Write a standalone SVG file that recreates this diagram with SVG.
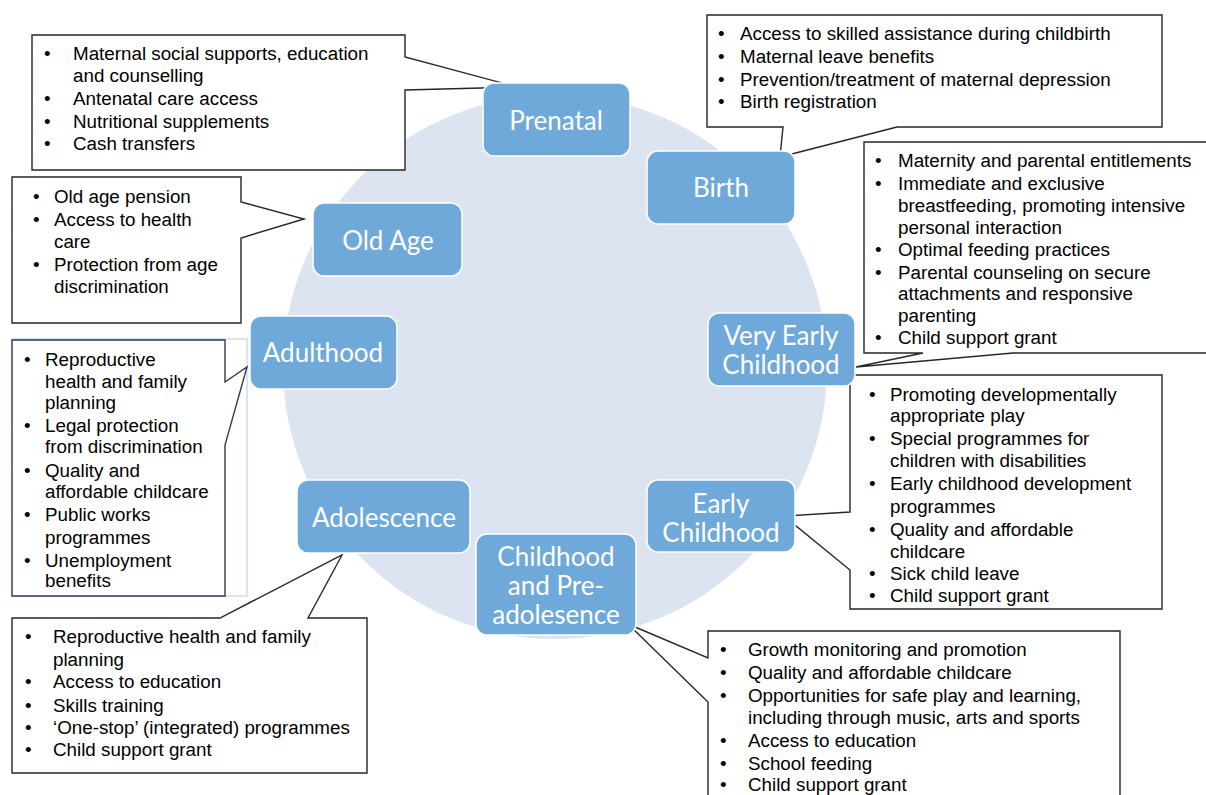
<svg xmlns="http://www.w3.org/2000/svg" width="1206" height="795" viewBox="0 0 1206 795">
<style>
.node rect{fill:#6fa9d9;stroke:#ffffff;stroke-width:1.5}
.node text{font-family:Lato,"Open Sans","Liberation Sans",sans-serif;font-size:26px;fill:#ffffff;text-anchor:middle}
.co{fill:#ffffff;stroke:#262626;stroke-width:1.4}
.t{font-family:"Liberation Sans",Arial,sans-serif;font-size:18.8px;fill:#000000}
</style>
<rect width="1206" height="795" fill="#ffffff"/>
<circle id="cycle" cx="555" cy="367" r="272" fill="#dbe4f0"/>

<g id="connectors">
<path class="co" d="M32,35 H405 V57 L517,87 L405,90 V170 H32 Z"/>
<path class="co" d="M12,177 H241 V202 L304,219 L241,238 V323 H12 Z"/>
<path class="co" d="M707,15 H1162 V127 H897 L780,157 L783,127 H707 Z"/>
<path class="co" d="M864,142 H1215 V353 H1013 L856,367 L923,353 H864 Z"/>
<path class="co" d="M850,375 H1162 V609 H850 V570 L784,516 L850,512 Z"/>
<path class="co" d="M708,631 H1120 V805 H708 V702 L628,624 L708,658 Z"/>
<path class="co" d="M12,618 H220 L342,555 L308,618 H367 V773 H12 Z"/>
<rect x="12" y="339" width="235" height="257" fill="none" stroke="#c6d9f1" stroke-width="1.4"/>
<path class="co" style="stroke:#2f3a55" d="M12,340 H225 V382 L247,367 L225,445 V596 H12 Z"/>
</g>

<g id="prenatal-list" class="t">
<text x="44" y="59.5">•</text><text x="73" y="59.5">Maternal social supports, education</text>
<text x="73" y="81.5">and counselling</text>
<text x="44" y="104.5">•</text><text x="73" y="104.5">Antenatal care access</text>
<text x="44" y="127.5">•</text><text x="73" y="127.5">Nutritional supplements</text>
<text x="44" y="149.5">•</text><text x="73" y="149.5">Cash transfers</text>
</g>

<g id="oldage-list" class="t">
<text x="33" y="203">•</text><text x="54" y="203">Old age pension</text>
<text x="33" y="225.5">•</text><text x="54" y="225.5">Access to health</text>
<text x="54" y="248">care</text>
<text x="33" y="270.5">•</text><text x="54" y="270.5">Protection from age</text>
<text x="54" y="292.5">discrimination</text>
</g>

<g id="birth-list" class="t">
<text x="718" y="39.5">•</text><text x="740" y="39.5">Access to skilled assistance during childbirth</text>
<text x="718" y="62.5">•</text><text x="740" y="62.5">Maternal leave benefits</text>
<text x="718" y="85.5">•</text><text x="740" y="85.5">Prevention/treatment of maternal depression</text>
<text x="718" y="107.5">•</text><text x="740" y="107.5">Birth registration</text>
</g>

<g id="vec-list" class="t">
<text x="875" y="167">•</text><text x="898" y="167">Maternity and parental entitlements</text>
<text x="875" y="189.5">•</text><text x="898" y="189.5">Immediate and exclusive</text>
<text x="898" y="211.5">breastfeeding, promoting intensive</text>
<text x="898" y="233.5">personal interaction</text>
<text x="875" y="255.5">•</text><text x="898" y="255.5">Optimal feeding practices</text>
<text x="875" y="278.5">•</text><text x="898" y="278.5">Parental counseling on secure</text>
<text x="898" y="299.5">attachments and responsive</text>
<text x="898" y="321.5">parenting</text>
<text x="875" y="343.5">•</text><text x="898" y="343.5">Child support grant</text>
</g>

<g id="ec-list" class="t">
<text x="869" y="400.5">•</text><text x="890" y="400.5">Promoting developmentally</text>
<text x="890" y="422">appropriate play</text>
<text x="869" y="444.5">•</text><text x="890" y="444.5">Special programmes for</text>
<text x="890" y="466.5">children with disabilities</text>
<text x="869" y="489.5">•</text><text x="890" y="489.5">Early childhood development</text>
<text x="890" y="512.5">programmes</text>
<text x="869" y="535.5">•</text><text x="890" y="535.5">Quality and affordable</text>
<text x="890" y="557.5">childcare</text>
<text x="869" y="579.5">•</text><text x="890" y="579.5">Sick child leave</text>
<text x="869" y="601.5">•</text><text x="890" y="601.5">Child support grant</text>
</g>

<g id="child-list" class="t">
<text x="720" y="655.5">•</text><text x="748" y="655.5">Growth monitoring and promotion</text>
<text x="720" y="679">•</text><text x="748" y="679">Quality and affordable childcare</text>
<text x="720" y="701.5">•</text><text x="748" y="701.5">Opportunities for safe play and learning,</text>
<text x="748" y="723.5">including through music, arts and sports</text>
<text x="720" y="746.5">•</text><text x="748" y="746.5">Access to education</text>
<text x="720" y="769.5">•</text><text x="748" y="769.5">School feeding</text>
<text x="720" y="790.5">•</text><text x="748" y="790.5">Child support grant</text>
</g>

<g id="adolescence-list" class="t">
<text x="25" y="643">•</text><text x="53" y="643">Reproductive health and family</text>
<text x="53" y="665.5">planning</text>
<text x="25" y="688">•</text><text x="53" y="688">Access to education</text>
<text x="25" y="711.5">•</text><text x="53" y="711.5">Skills training</text>
<text x="25" y="734">•</text><text x="53" y="734">‘One-stop’ (integrated) programmes</text>
<text x="25" y="755.5">•</text><text x="53" y="755.5">Child support grant</text>
</g>

<g id="adulthood-list" class="t">
<text x="24" y="365.5">•</text><text x="45" y="365.5">Reproductive</text>
<text x="45" y="387.5">health and family</text>
<text x="45" y="409">planning</text>
<text x="24" y="432">•</text><text x="45" y="432">Legal protection</text>
<text x="45" y="453">from discrimination</text>
<text x="24" y="476.5">•</text><text x="45" y="476.5">Quality and</text>
<text x="45" y="498">affordable childcare</text>
<text x="24" y="520.5">•</text><text x="45" y="520.5">Public works</text>
<text x="45" y="543.5">programmes</text>
<text x="24" y="566.5">•</text><text x="45" y="566.5">Unemployment</text>
<text x="45" y="586.5">benefits</text>
</g>

<g id="prenatal" class="node"><rect x="483" y="83" width="147" height="73" rx="11"/><text x="556" y="130">Prenatal</text></g>
<g id="birth" class="node"><rect x="647" y="151" width="148" height="73" rx="11"/><text x="721" y="197">Birth</text></g>
<g id="very-early-childhood" class="node"><rect x="708" y="313" width="147" height="73" rx="11"/><text x="781" y="345">Very Early</text><text x="781" y="374">Childhood</text></g>
<g id="early-childhood" class="node"><rect x="647" y="480" width="148" height="72" rx="11"/><text x="721" y="513">Early</text><text x="721" y="542">Childhood</text></g>
<g id="childhood-preadolescence" class="node"><rect x="476" y="534" width="160" height="101" rx="11"/><text x="556" y="566">Childhood</text><text x="556" y="595">and Pre-</text><text x="556" y="624">adolesence</text></g>
<g id="adolescence" class="node"><rect x="297" y="480" width="173" height="73" rx="11"/><text x="384" y="527">Adolescence</text></g>
<g id="adulthood" class="node"><rect x="250" y="316" width="147" height="73" rx="11"/><text x="323" y="362">Adulthood</text></g>
<g id="old-age" class="node"><rect x="313" y="203" width="149" height="73" rx="11"/><text x="388" y="250">Old Age</text></g>
</svg>
